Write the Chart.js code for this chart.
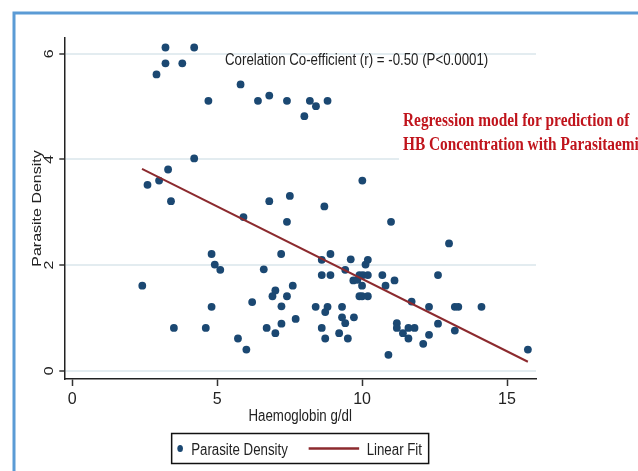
<!DOCTYPE html>
<html><head><meta charset="utf-8">
<script src="https://cdn.jsdelivr.net/npm/chart.js@4.4.1/dist/chart.umd.min.js"></script>
<style>html,body{margin:0;padding:0;background:#fff;overflow:hidden}#wrap{width:638px;height:471px;position:relative}</style>
</head><body><div id="wrap"><canvas id="c" width="638" height="471"></canvas></div>
<script>
// ---- data ----
const haemoglobin = [
  3.22, 4.21, 3.22, 3.80, 2.91, 4.70, 4.21, 3.31, 3.00, 2.60,
  3.41, 5.81, 6.41, 6.80, 7.41, 8.20, 8.41, 8.81, 8.01, 10.01,
  6.80, 7.51, 8.70, 5.91, 7.41, 4.81, 4.92, 5.11, 2.42, 4.81,
  3.51, 4.61, 7.21, 6.61, 6.21, 7.01, 6.91, 7.61, 7.41, 7.22,
  7.71, 6.71, 7.22, 7.01, 5.72, 6.01, 8.61, 8.91, 8.61, 8.91,
  9.61, 9.42, 10.20, 10.12, 9.70, 9.91, 10.03, 10.20, 9.84, 10.00,
  9.91, 10.00, 10.20, 8.40, 8.81, 8.73, 9.31, 9.31, 9.42, 9.72,
  8.61, 8.73, 9.21, 9.51, 11.00, 13.00, 10.70, 11.12, 10.81, 12.62,
  11.71, 12.31, 13.20, 13.32, 14.12, 11.20, 11.20, 11.60, 11.81, 11.41,
  11.60, 12.62, 12.31, 13.20, 12.11, 10.91, 15.72
];
const parasiteDensity = [
  6.12, 6.12, 5.82, 5.82, 5.61, 5.11, 4.02, 3.81, 3.60, 3.52,
  3.21, 5.42, 5.11, 5.21, 5.11, 5.11, 5.01, 5.11, 4.82, 3.60,
  3.21, 3.31, 3.11, 2.91, 2.82, 2.21, 2.01, 1.91, 1.61, 1.21,
  0.81, 0.81, 2.21, 1.92, 1.30, 1.52, 1.41, 1.61, 1.41, 1.22,
  0.98, 0.81, 0.89, 0.71, 0.61, 0.40, 2.10, 2.21, 1.81, 1.81,
  2.11, 1.91, 2.10, 2.01, 1.71, 1.81, 1.81, 1.81, 1.72, 1.61,
  1.41, 1.41, 1.41, 1.21, 1.21, 1.11, 1.21, 1.01, 0.90, 1.01,
  0.81, 0.61, 0.71, 0.61, 2.82, 2.41, 1.81, 1.71, 1.61, 1.81,
  1.31, 1.21, 1.21, 1.21, 1.21, 0.90, 0.81, 0.81, 0.81, 0.71,
  0.61, 0.89, 0.68, 0.76, 0.51, 0.30, 0.40
];
const fitX = [2.41, 15.72];
const fitY = [3.82, 0.17];
const xTicks = [0, 5, 10, 15];
const yTicks = [0, 2, 4, 6];
const seriesLabels = ['Parasite Density', 'Linear Fit'];
const xTitle = 'Haemoglobin g/dl';
const yTitle = 'Parasite Density';
const corrText = 'Corelation Co-efficient (r) = -0.50 (P<0.0001)';
const noteLines = ['Regression model for prediction of', 'HB Concentration with Parasitaemia'];

// ---- styles ----
const DOT = '#1b4872';
const FIT = '#8c2a2e';
const INK = '#222222';
const SANS = '"Liberation Sans", Arial, sans-serif';
const SX = 0.83;

function txt(ctx, s, x, y, font, color, align, sx) {
  ctx.save();
  ctx.font = font; ctx.fillStyle = color;
  ctx.textBaseline = 'alphabetic'; ctx.textAlign = align;
  ctx.translate(x, y); ctx.scale(sx, 1);
  ctx.fillText(s, 0, 0);
  ctx.restore();
}
function vtxt(ctx, s, x, y, font, color) {
  ctx.save();
  ctx.font = font; ctx.fillStyle = color;
  ctx.textBaseline = 'alphabetic'; ctx.textAlign = 'center';
  ctx.translate(x, y); ctx.scale(SX, 1); ctx.rotate(-Math.PI / 2);
  ctx.fillText(s, 0, 0);
  ctx.restore();
}

const decor = {
  id: 'decor',
  beforeDraw(chart) {
    const ctx = chart.ctx;
    ctx.save(); ctx.fillStyle = '#fff'; ctx.fillRect(0, 0, chart.width, chart.height); ctx.restore();
  },
  afterDraw(chart) {
    const ctx = chart.ctx, ca = chart.chartArea, ys = chart.scales.y;
    const cx = (ca.left + ca.right) / 2;
    // white panel behind the note
    ctx.save(); ctx.fillStyle = '#fff'; ctx.fillRect(399, 98, 239, 66); ctx.restore();
    // frame
    ctx.save(); ctx.strokeStyle = '#5b9bd5'; ctx.lineWidth = 3;
    ctx.beginPath(); ctx.moveTo(14, 480); ctx.lineTo(14, 13); ctx.lineTo(640, 13); ctx.stroke(); ctx.restore();
    // y tick labels
    ys.ticks.forEach(t => vtxt(ctx, String(t.value), 53, ys.getPixelForValue(t.value), '16px ' + SANS, INK));
    // y title
    vtxt(ctx, yTitle, 40.5, (ca.top + ca.bottom) / 2, '16px ' + SANS, INK);
    // x title
    txt(ctx, xTitle, cx, 421, '16px ' + SANS, INK, 'center', SX);
    // correlation
    txt(ctx, corrText, 225, 65, '16px ' + SANS, INK, 'left', SX);
    // note
    noteLines.forEach((l, i) => txt(ctx, l, 403, 126 + i * 24, 'bold 18.5px "Liberation Serif", "Times New Roman", serif', '#c0141c', 'left', SX));
    // legend
    const bl = cx - 128.5, bt = 433.5;
    ctx.save(); ctx.strokeStyle = '#111'; ctx.lineWidth = 1.5; ctx.strokeRect(bl, bt, 257, 30); ctx.restore();
    ctx.save(); ctx.fillStyle = DOT; ctx.beginPath(); ctx.ellipse(bl + 8.5, 448.5, 2.8, 3.6, 0, 0, Math.PI * 2); ctx.fill(); ctx.restore();
    txt(ctx, chart.data.datasets[1].label, bl + 19.5, 455, '16px ' + SANS, INK, 'left', SX);
    ctx.save(); ctx.strokeStyle = FIT; ctx.lineWidth = 2.5; ctx.beginPath(); ctx.moveTo(bl + 137, 448.5); ctx.lineTo(bl + 187.5, 448.5); ctx.stroke(); ctx.restore();
    txt(ctx, chart.data.datasets[0].label, bl + 195, 455, '16px ' + SANS, INK, 'left', SX);
  }
};

new Chart(document.getElementById('c'), {
  type: 'scatter',
  data: {
    datasets: [
      {
        label: seriesLabels[1], type: 'line', showLine: true, order: 1,
        data: fitX.map((x, i) => ({ x, y: fitY[i] })),
        borderColor: FIT, borderWidth: 2, pointRadius: 0, fill: false
      },
      {
        label: seriesLabels[0], order: 2,
        data: haemoglobin.map((x, i) => ({ x, y: parasiteDensity[i] })),
        backgroundColor: DOT, borderWidth: 0, pointRadius: 3.9, pointStyle: 'circle'
      }
    ]
  },
  options: {
    responsive: false, animation: false, devicePixelRatio: 1,
    layout: { padding: { top: 38, right: 102, left: 0, bottom: 0 } },
    plugins: { legend: { display: false }, tooltip: { enabled: false } },
    scales: {
      x: {
        type: 'linear', position: 'bottom', min: -0.27, max: 16.0,
        afterBuildTicks: s => { s.ticks = xTicks.map(v => ({ value: v })); },
        afterFit: s => { s.height = 92; },
        ticks: { font: { family: '"Liberation Sans Narrow", "Liberation Sans", Arial, sans-serif', size: 16 }, color: INK, padding: 4, maxRotation: 0, minRotation: 0 },
        grid: { drawOnChartArea: false, drawTicks: true, tickLength: 7, tickColor: '#333', tickWidth: 1.5 },
        border: { color: INK, width: 1.5 }
      },
      y: {
        type: 'linear', position: 'left', min: -0.157, max: 6.30,
        afterBuildTicks: s => { s.ticks = yTicks.map(v => ({ value: v })); },
        afterFit: s => { s.width = 64.3; },
        ticks: { display: false },
        grid: { color: '#e3ecf0', lineWidth: 2, drawTicks: true, tickLength: 5, tickColor: '#333', tickWidth: 1.5 },
        border: { color: INK, width: 1.5 }
      }
    }
  },
  plugins: [decor]
});
</script></body></html>
